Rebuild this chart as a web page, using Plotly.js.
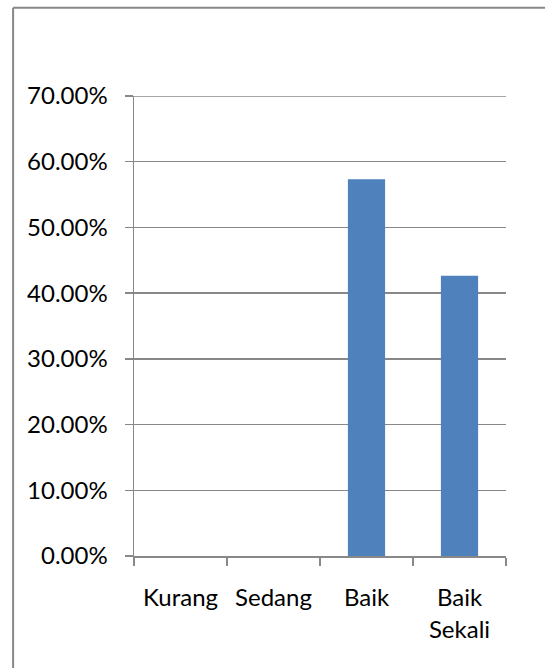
<!DOCTYPE html>
<html>
<head>
<meta charset="utf-8">
<script src="https://cdn.plot.ly/plotly-3.0.1.min.js"></script>
<style>
  html, body { margin: 0; padding: 0; background: #fff; }
  #chart { width: 545px; height: 668px; }
</style>
</head>
<body>
<div id="chart"></div>
<script>
const categories = ["Kurang", "Sedang", "Baik", "Baik<br>Sekali"];
const values = [0, 0, 0.5735, 0.4265];
const yTickValues = [0, 0.1, 0.2, 0.3, 0.4, 0.5, 0.6, 0.7];

const gray = "#888888";
const fontSize = 24;
const trace = {
  type: "bar",
  x: categories,
  y: values,
  marker: { color: "#4F81BD" },
  hoverinfo: "skip"
};

const yMax = yTickValues[yTickValues.length - 1];

const layout = {
  width: 545,
  height: 668,
  margin: { l: 134, r: 39, t: 96, b: 112 },
  paper_bgcolor: "#ffffff",
  plot_bgcolor: "#ffffff",
  showlegend: false,
  bargap: 0.6,
  font: { family: "Lato, 'Open Sans', sans-serif", size: fontSize, color: "#000000" },
  xaxis: {
    type: "category",
    showline: true,
    linecolor: gray,
    linewidth: 1.5,
    ticks: "outside",
    tickson: "boundaries",
    ticklen: 8,
    tickcolor: gray,
    tickwidth: 1.5,
    showgrid: false,
    ticklabelstandoff: 20,
    tickfont: { size: fontSize, color: "#000000" }
  },
  yaxis: {
    range: [0, yMax],
    tickvals: yTickValues,
    tickformat: ".2%",
    showline: true,
    linecolor: gray,
    linewidth: 1.5,
    ticks: "outside",
    ticklen: 8,
    tickcolor: gray,
    tickwidth: 1.5,
    showgrid: true,
    gridcolor: gray,
    gridwidth: 1.5,
    zeroline: false,
    ticklabelstandoff: 12,
    tickfont: { size: fontSize, color: "#000000" }
  },
  shapes: [
    {
      type: "line", xref: "paper", yref: "y",
      x0: 0, x1: 1, y0: yMax, y1: yMax,
      line: { color: gray, width: 1.5 }
    },
    {
      type: "line", xref: "paper", yref: "paper",
      x0: -0.325, x1: -0.325, y0: 1.192, y1: -0.35,
      line: { color: gray, width: 2 }
    },
    {
      type: "line", xref: "paper", yref: "paper",
      x0: -0.325, x1: 1.2, y0: 1.192, y1: 1.192,
      line: { color: gray, width: 2 }
    }
  ]
};

Plotly.newPlot("chart", [trace], layout, { displayModeBar: false, staticPlot: true });
</script>
</body>
</html>
